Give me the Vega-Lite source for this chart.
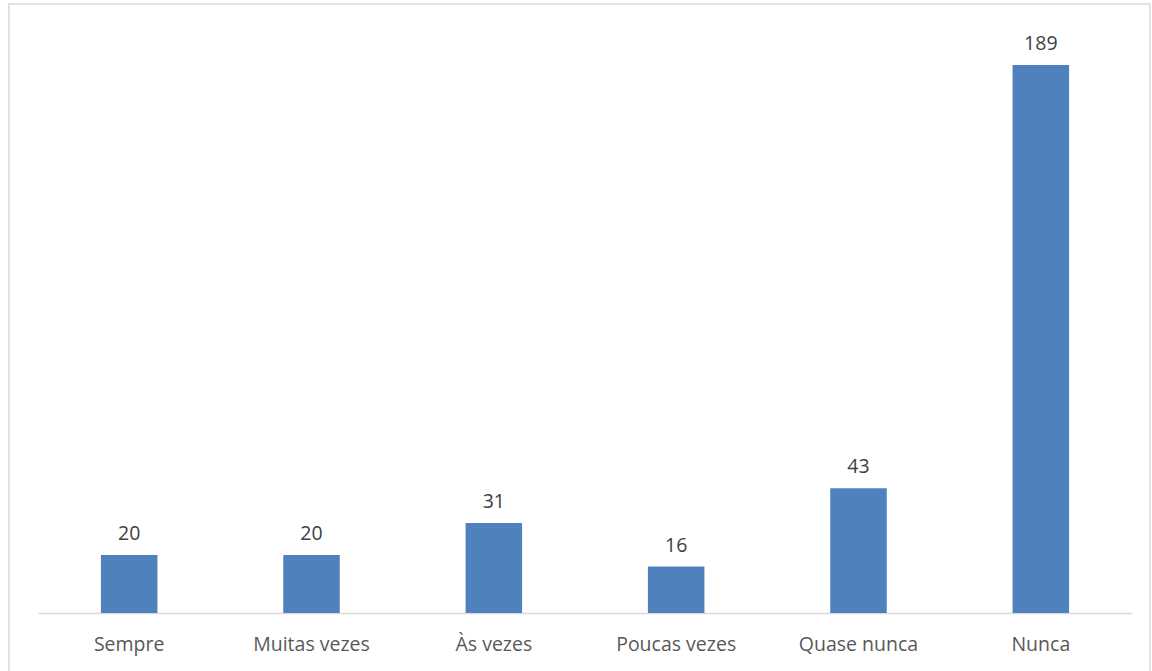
{
  "$schema": "https://vega.github.io/schema/vega-lite/v6.json",
  "width": 1141,
  "height": 677,
  "padding": {"left": 9, "top": 4, "right": 2, "bottom": 0},
  "autosize": {"type": "none"},
  "background": "white",
  "config": {
    "view": {"stroke": "#d9d9d9", "strokeWidth": 1.5},
    "font": "Open Sans"
  },
  "data": {
    "values": [
      {"categoria": "Sempre", "valor": 20},
      {"categoria": "Muitas vezes", "valor": 20},
      {"categoria": "Às vezes", "valor": 31},
      {"categoria": "Poucas vezes", "valor": 16},
      {"categoria": "Quase nunca", "valor": 43},
      {"categoria": "Nunca", "valor": 189}
    ]
  },
  "encoding": {
    "x": {
      "field": "categoria",
      "type": "nominal",
      "sort": null,
      "scale": {"range": [29, 1123], "paddingInner": 0.69, "paddingOuter": 0.345},
      "axis": {
        "title": null,
        "labelAngle": 0,
        "ticks": false,
        "labelFontSize": 19.5,
        "labelColor": "#595959",
        "labelPadding": 22,
        "domainColor": "#d9d9d9",
        "domainWidth": 1.5,
        "offset": -68,
        "grid": false
      }
    }
  },
  "layer": [
    {
      "mark": {"type": "bar", "color": "#4f81bd"},
      "encoding": {
        "y": {
          "field": "valor",
          "type": "quantitative",
          "scale": {"domain": [-23.45, 210], "nice": false, "zero": false},
          "axis": null
        },
        "y2": {"datum": 0}
      }
    },
    {
      "mark": {"type": "text", "baseline": "middle", "dy": -21, "fontSize": 19.5, "color": "#404040"},
      "encoding": {
        "y": {"field": "valor", "type": "quantitative"},
        "text": {"field": "valor", "type": "quantitative"}
      }
    }
  ]
}
